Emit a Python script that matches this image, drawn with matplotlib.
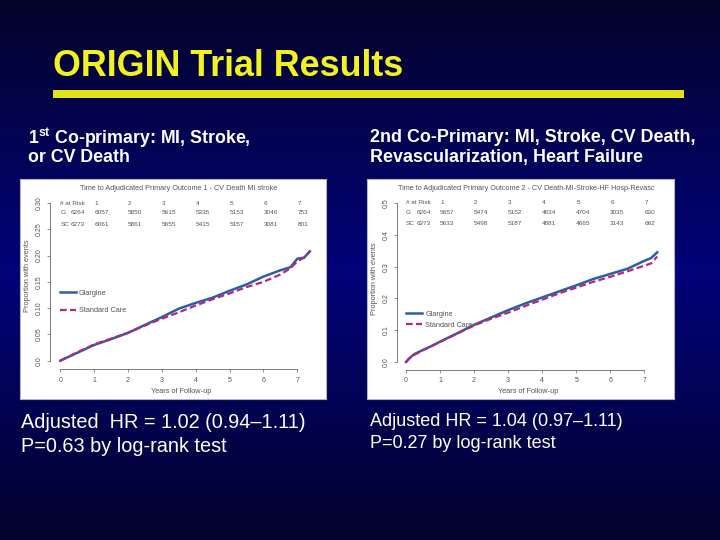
import numpy as np
import matplotlib
matplotlib.use("Agg")
import matplotlib.pyplot as plt
from matplotlib.colors import LinearSegmentedColormap

plt.rcParams['font.family'] = ['Liberation Sans', 'DejaVu Sans']
plt.rcParams['mathtext.fontset'] = 'custom'
plt.rcParams['mathtext.bf'] = 'Liberation Sans:bold'
plt.rcParams['mathtext.rm'] = 'Liberation Sans'

# ---- data, panel 1 (MI, stroke, CV death)
t1 = [0, 0.5, 1.0, 1.5, 2.0, 2.5, 3.0, 3.5, 4.0, 4.5, 5.0, 5.5, 6.0, 6.5, 6.8, 7.0, 7.2, 7.37]
glar1 = [0, 0.015, 0.030, 0.041, 0.053, 0.068, 0.083, 0.099, 0.110, 0.120, 0.133, 0.145, 0.160, 0.172, 0.178, 0.194, 0.196, 0.208]
std1 = [0, 0.016, 0.031, 0.042, 0.053, 0.067, 0.080, 0.092, 0.105, 0.117, 0.128, 0.140, 0.150, 0.164, 0.176, 0.189, 0.196, 0.208]
risk_g1 = ['6264', '6057', '5850', '5615', '5335', '5153', '3046', '753']
risk_s1 = ['6273', '6061', '5861', '5655', '5415', '5157', '3081', '801']

# ---- data, panel 2 (+ revasc, heart failure)
t2 = [0, 0.1, 0.25, 0.5, 0.75, 1.0, 1.5, 2.0, 2.5, 3.0, 3.5, 4.0, 4.5, 5.0, 5.5, 6.0, 6.5, 7.0, 7.2, 7.38]
glar2 = [0, 0.012, 0.025, 0.038, 0.050, 0.064, 0.090, 0.117, 0.140, 0.163, 0.184, 0.203, 0.222, 0.241, 0.261, 0.277, 0.293, 0.318, 0.327, 0.345]
std2 = [0, 0.011, 0.023, 0.037, 0.050, 0.063, 0.089, 0.115, 0.136, 0.155, 0.176, 0.196, 0.216, 0.234, 0.252, 0.268, 0.285, 0.303, 0.310, 0.332]
risk_g2 = ['6264', '5657', '5474', '5152', '4834', '4704', '3035', '630']
risk_s2 = ['6273', '5633', '5498', '5187', '4881', '4665', '3143', '662']

years = [0, 1, 2, 3, 4, 5, 6, 7]
yt1 = [0.0, 0.05, 0.10, 0.15, 0.20, 0.25, 0.30]
yt1_lab = ['0.0', '0.05', '0.10', '0.15', '0.20', '0.25', '0.30']
yt2 = [0.0, 0.1, 0.2, 0.3, 0.4, 0.5]
yt2_lab = ['0.0', '0.1', '0.2', '0.3', '0.4', '0.5']

W, H = 720, 540
fig = plt.figure(figsize=(7.2, 5.4), dpi=100)

# background gradient
bg = fig.add_axes([0, 0, 1, 1])
cmap = LinearSegmentedColormap.from_list('bg', [(0, '#04042a'), (0.5, '#02027a'), (1, '#03032c')])
grad = np.linspace(0, 1, 256).reshape(-1, 1)
bg.imshow(grad, aspect='auto', cmap=cmap, extent=[0, 1, 0, 1], origin='upper')
bg.set_xlim(0, 1)
bg.set_ylim(0, 1)
bg.axis('off')

def fx(px):
    return px / W

def fy(py):
    return 1 - py / H

# title + yellow rule
fig.text(fx(53), fy(66), 'ORIGIN Trial Results', color='#f2f222', fontsize=25.8, fontweight='bold', va='center')
bg.add_patch(plt.Rectangle((fx(53), fy(98)), fx(684) - fx(53), fy(90) - fy(98), color='#e2e21c', lw=0))

# subtitles
fig.text(fx(28), fy(138), r'1$^{\mathbf{st}}$ Co-primary: MI, Stroke,', color='white', fontsize=12.8, fontweight='bold', va='center')
fig.text(fx(28), fy(158), 'or CV Death', color='white', fontsize=12.8, fontweight='bold', va='center')
fig.text(fx(370), fy(138), '2nd Co-Primary: MI, Stroke, CV Death,', color='white', fontsize=12.9, fontweight='bold', va='center')
fig.text(fx(370), fy(158), 'Revascularization, Heart Failure', color='white', fontsize=12.9, fontweight='bold', va='center')

# bottom notes
fig.text(fx(21), fy(422), 'Adjusted  HR = 1.02 (0.94\u20131.11)', color='white', fontsize=14.3, va='center')
fig.text(fx(21), fy(446), 'P=0.63 by log-rank test', color='white', fontsize=14.3, va='center')
fig.text(fx(370), fy(421), 'Adjusted HR = 1.04 (0.97\u20131.11)', color='white', fontsize=13, va='center')
fig.text(fx(370), fy(443), 'P=0.27 by log-rank test', color='white', fontsize=13, va='center')


def place(xlim, ylim, xcal, ycal):
    # xcal/ycal: (value a, pixel a, value b, pixel b)
    sx = (xcal[3] - xcal[1]) / (xcal[2] - xcal[0])
    sy = (ycal[3] - ycal[1]) / (ycal[2] - ycal[0])
    left = xcal[1] + (xlim[0] - xcal[0]) * sx
    right = xcal[1] + (xlim[1] - xcal[0]) * sx
    bot = ycal[1] + (ylim[0] - ycal[0]) * sy
    top = ycal[1] + (ylim[1] - ycal[0]) * sy
    return [fx(left), fy(bot), fx(right) - fx(left), fy(top) - fy(bot)]


def panel(box, rect, xlim, ylim, t, g, s, rg, rs, yt, ytl, title, rows_y, leg_xy, leg_sp):
    frame = fig.add_axes([fx(box[0]), fy(box[3]), fx(box[2]) - fx(box[0]), fy(box[1]) - fy(box[3])])
    frame.set_facecolor('white')
    frame.set_xticks([])
    frame.set_yticks([])
    for sp in frame.spines.values():
        sp.set_color('#b4b4c0')
        sp.set_linewidth(0.8)
    frame.text(0.52, 0.955, title, transform=frame.transAxes, ha='center', va='center',
               fontsize=5.2, color='#555555')

    ax = fig.add_axes(place(xlim, ylim, *rect))
    ax.patch.set_alpha(0)
    ax.set_xlim(*xlim)
    ax.set_ylim(*ylim)
    ax.plot(t, g, color='#2a5ea6', lw=1.8, label='Glargine')
    ax.plot(t, s, color='#b02a7c', lw=1.6, ls=(0, (3, 1.5)), label='Standard Care')

    for side in ['top', 'right']:
        ax.spines[side].set_visible(False)
    ax.spines['left'].set_bounds(yt[0], yt[-1])
    ax.spines['bottom'].set_bounds(0, 7)
    for side in ['left', 'bottom']:
        ax.spines[side].set_color('#666666')
        ax.spines[side].set_linewidth(0.6)
    ax.set_xticks(years)
    ax.set_yticks(yt)
    ax.set_yticklabels(ytl, rotation=90, va='center')
    ax.tick_params(labelsize=5, colors='#666666', labelcolor='#555555', length=2.5, width=0.5, pad=3)
    ax.set_xlabel('Years of Follow-up', fontsize=5.3, color='#555555', labelpad=3)
    ax.set_ylabel('Proportion with events', fontsize=5.3, color='#555555', labelpad=3)

    # numbers at risk
    ax.text(0, rows_y[0], '# at Risk', fontsize=4.6, color='#555555', va='center')
    for i in range(1, 8):
        ax.text(years[i], rows_y[0], str(years[i]), fontsize=4.6, color='#555555', va='center')
    ax.text(0, rows_y[1], 'G', fontsize=4.6, color='#555555', va='center')
    ax.text(0, rows_y[2], 'SC', fontsize=4.6, color='#555555', va='center')
    ax.text(0.3, rows_y[1], rg[0], fontsize=4.6, color='#555555', va='center')
    ax.text(0.3, rows_y[2], rs[0], fontsize=4.6, color='#555555', va='center')
    for i in range(1, 8):
        ax.text(years[i], rows_y[1], rg[i], fontsize=4.6, color='#555555', va='center')
        ax.text(years[i], rows_y[2], rs[i], fontsize=4.6, color='#555555', va='center')

    leg = ax.legend(loc='center left', bbox_to_anchor=leg_xy, bbox_transform=ax.transData,
                    frameon=False, fontsize=5.3, handlelength=2.2, handletextpad=0.4,
                    labelspacing=leg_sp, borderpad=0, borderaxespad=0)
    for txt in leg.get_texts():
        txt.set_color('#555555')
    return ax


panel((20, 179, 326, 399), ((0, 60.3, 7, 297.3), (0, 360.7, 0.30, 203)),
      (-0.3, 7.45), (-0.016, 0.34), t1, glar1, std1, risk_g1, risk_s1, yt1, yt1_lab,
      'Time to Adjudicated Primary Outcome 1 - CV Death MI stroke',
      (0.300, 0.281, 0.259), (-0.02, 0.112), 1.4)

panel((367, 179, 674, 399), ((0, 406, 7, 644.3), (0, 362, 0.5, 203)),
      (-0.26, 7.45), (-0.024, 0.55), t2, glar2, std2, risk_g2, risk_s2, yt2, yt2_lab,
      'Time to Adjudicated Primary Outcome 2 - CV Death-MI-Stroke-HF Hosp-Revasc',
      (0.500, 0.469, 0.437), (0.0, 0.133), 0.45)

fig.savefig('out.png', dpi=100)
